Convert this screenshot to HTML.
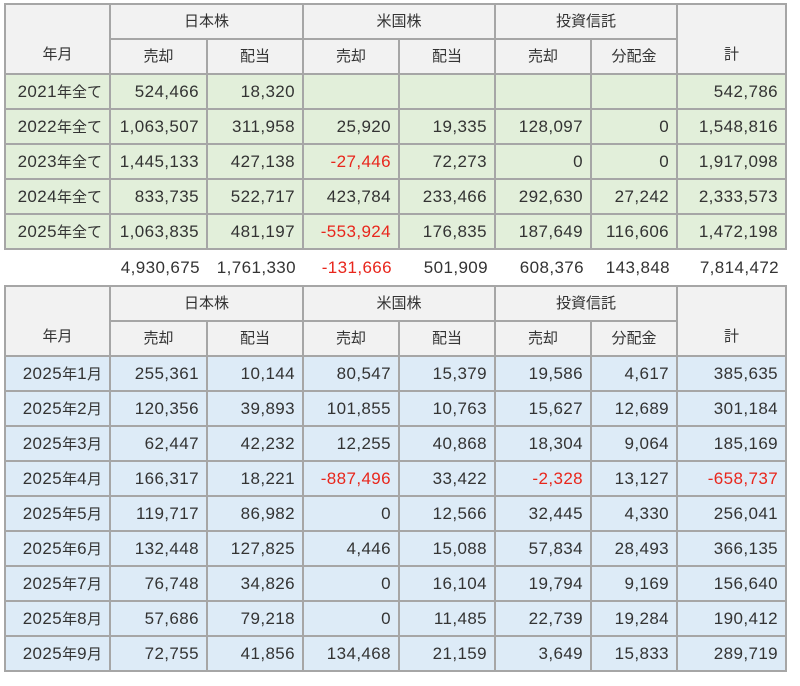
<!DOCTYPE html>
<html><head><meta charset="utf-8"><style>
body{margin:0;background:#fff;width:800px;height:686px;overflow:hidden;font-family:"Liberation Sans","Noto Sans CJK JP",sans-serif;color:#333;font-size:17px}
table{position:absolute;left:4px;border-collapse:collapse;table-layout:fixed;width:781px}
td{border:2px solid #a6a6a6;height:31px;line-height:31px;padding:0 7px 0 0;text-align:right;white-space:nowrap;overflow:hidden;letter-spacing:0.4px;vertical-align:middle}
tr{height:35px}
.h td{background:#f2f2f2;text-align:center;padding:0;font-size:15px;letter-spacing:0}
.g td{background:#e2efda}
.b td{background:#ddebf7}
.t td{border:none;background:#fff}
.r{color:#e8261c}
.ym{vertical-align:bottom!important;line-height:20px!important;padding-bottom:8px!important}
i{font-style:normal;font-size:15px;letter-spacing:0}
</style></head><body>
<table style="top:3px">
<colgroup><col style="width:105px"><col style="width:97px"><col style="width:96px"><col style="width:96px"><col style="width:96px"><col style="width:96px"><col style="width:86px"><col style="width:109px"></colgroup>
<tr class="h"><td rowspan="2" class="ym">年月</td><td colspan="2">日本株</td><td colspan="2">米国株</td><td colspan="2">投資信託</td><td rowspan="2" class="ym">計</td></tr>
<tr class="h"><td>売却</td><td>配当</td><td>売却</td><td>配当</td><td>売却</td><td>分配金</td></tr>
<tr class="g"><td>2021<i>年全て</i></td><td>524,466</td><td>18,320</td><td></td><td></td><td></td><td></td><td>542,786</td></tr>
<tr class="g"><td>2022<i>年全て</i></td><td>1,063,507</td><td>311,958</td><td>25,920</td><td>19,335</td><td>128,097</td><td>0</td><td>1,548,816</td></tr>
<tr class="g"><td>2023<i>年全て</i></td><td>1,445,133</td><td>427,138</td><td class="r">-27,446</td><td>72,273</td><td>0</td><td>0</td><td>1,917,098</td></tr>
<tr class="g"><td>2024<i>年全て</i></td><td>833,735</td><td>522,717</td><td>423,784</td><td>233,466</td><td>292,630</td><td>27,242</td><td>2,333,573</td></tr>
<tr class="g"><td>2025<i>年全て</i></td><td>1,063,835</td><td>481,197</td><td class="r">-553,924</td><td>176,835</td><td>187,649</td><td>116,606</td><td>1,472,198</td></tr>
<tr class="t"><td></td><td>4,930,675</td><td>1,761,330</td><td class="r">-131,666</td><td>501,909</td><td>608,376</td><td>143,848</td><td>7,814,472</td></tr>
</table>
<table style="top:285px">
<colgroup><col style="width:105px"><col style="width:97px"><col style="width:96px"><col style="width:96px"><col style="width:96px"><col style="width:96px"><col style="width:86px"><col style="width:109px"></colgroup>
<tr class="h"><td rowspan="2" class="ym">年月</td><td colspan="2">日本株</td><td colspan="2">米国株</td><td colspan="2">投資信託</td><td rowspan="2" class="ym">計</td></tr>
<tr class="h"><td>売却</td><td>配当</td><td>売却</td><td>配当</td><td>売却</td><td>分配金</td></tr>
<tr class="b"><td>2025<i>年</i>1<i>月</i></td><td>255,361</td><td>10,144</td><td>80,547</td><td>15,379</td><td>19,586</td><td>4,617</td><td>385,635</td></tr>
<tr class="b"><td>2025<i>年</i>2<i>月</i></td><td>120,356</td><td>39,893</td><td>101,855</td><td>10,763</td><td>15,627</td><td>12,689</td><td>301,184</td></tr>
<tr class="b"><td>2025<i>年</i>3<i>月</i></td><td>62,447</td><td>42,232</td><td>12,255</td><td>40,868</td><td>18,304</td><td>9,064</td><td>185,169</td></tr>
<tr class="b"><td>2025<i>年</i>4<i>月</i></td><td>166,317</td><td>18,221</td><td class="r">-887,496</td><td>33,422</td><td class="r">-2,328</td><td>13,127</td><td class="r">-658,737</td></tr>
<tr class="b"><td>2025<i>年</i>5<i>月</i></td><td>119,717</td><td>86,982</td><td>0</td><td>12,566</td><td>32,445</td><td>4,330</td><td>256,041</td></tr>
<tr class="b"><td>2025<i>年</i>6<i>月</i></td><td>132,448</td><td>127,825</td><td>4,446</td><td>15,088</td><td>57,834</td><td>28,493</td><td>366,135</td></tr>
<tr class="b"><td>2025<i>年</i>7<i>月</i></td><td>76,748</td><td>34,826</td><td>0</td><td>16,104</td><td>19,794</td><td>9,169</td><td>156,640</td></tr>
<tr class="b"><td>2025<i>年</i>8<i>月</i></td><td>57,686</td><td>79,218</td><td>0</td><td>11,485</td><td>22,739</td><td>19,284</td><td>190,412</td></tr>
<tr class="b"><td>2025<i>年</i>9<i>月</i></td><td>72,755</td><td>41,856</td><td>134,468</td><td>21,159</td><td>3,649</td><td>15,833</td><td>289,719</td></tr>
</table>
</body></html>
